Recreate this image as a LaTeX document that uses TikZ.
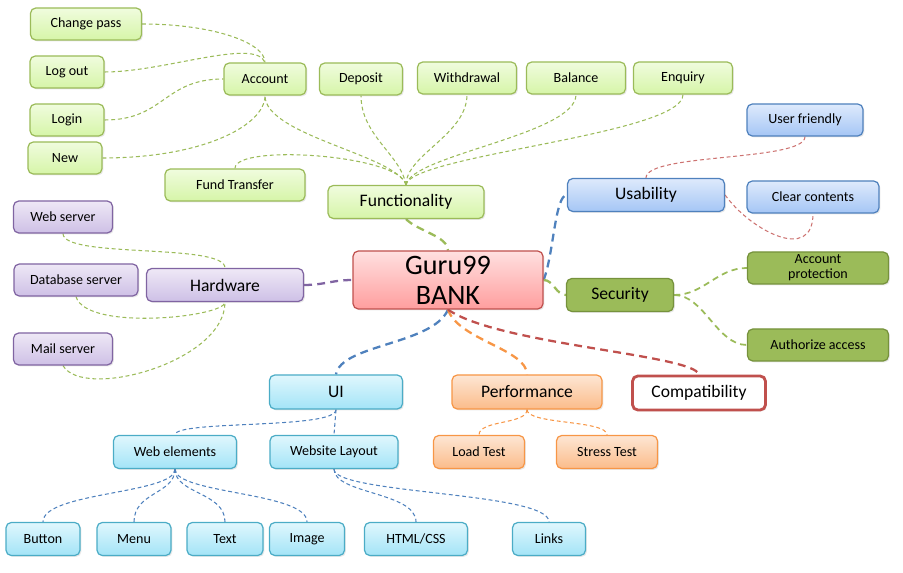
\documentclass[tikz,border=0pt]{standalone}
\usepackage{fontspec}
\setmainfont{Carlito}
\usetikzlibrary{shadows, backgrounds}
\definecolor{grnline}{RGB}{155,187,89}
\definecolor{grntop}{RGB}{240,252,222}
\definecolor{grnbot}{RGB}{214,245,168}
\definecolor{grndark}{RGB}{118,146,60}
\definecolor{blueline}{RGB}{79,129,189}
\definecolor{bluetop}{RGB}{222,234,252}
\definecolor{bluebot}{RGB}{165,198,245}
\definecolor{purpline}{RGB}{128,100,162}
\definecolor{purptop}{RGB}{238,232,246}
\definecolor{purpbot}{RGB}{206,192,230}
\definecolor{redline}{RGB}{192,80,77}
\definecolor{redtop}{RGB}{255,224,224}
\definecolor{redbot}{RGB}{255,158,158}
\definecolor{cyanline}{RGB}{75,172,198}
\definecolor{cyantop}{RGB}{224,247,253}
\definecolor{cyanbot}{RGB}{163,228,247}
\definecolor{orgline}{RGB}{247,150,70}
\definecolor{orgtop}{RGB}{253,230,212}
\definecolor{orgbot}{RGB}{251,188,138}
\tikzset{
  box/.style={draw, rounded corners=3pt, line width=0.7pt, align=center, inner sep=1pt,
    minimum height=0.64cm, font=\fontsize{8}{8.5}\selectfont,
    drop shadow={opacity=0.18, shadow xshift=0.8pt, shadow yshift=-0.8pt}},
  bigbox/.style={minimum height=0.66cm, font=\fontsize{10}{12}\selectfont},
  greenbox/.style={box, draw=grnline, top color=grntop, bottom color=grnbot},
  bluebox/.style={box, draw=blueline, top color=bluetop, bottom color=bluebot},
  purpbox/.style={box, draw=purpline, top color=purptop, bottom color=purpbot},
  secbox/.style={box, draw=grndark, fill=grnline},
  cyanbox/.style={box, draw=cyanline, top color=cyantop, bottom color=cyanbot},
  orgbox/.style={box, draw=orgline, top color=orgtop, bottom color=orgbot},
  thinlink/.style={dash pattern=on 2.2pt off 1.6pt, line width=0.6pt},
  mainlink/.style={dash pattern=on 4.5pt off 3pt, line width=1.3pt},
}

\begin{document}
\begin{tikzpicture}[x=0.02cm, y=-0.02cm]
  \useasboundingbox (0,0) rectangle (903,573);

  % centre
  \node[box, draw=redline, top color=redtop, bottom color=redbot, minimum width=3.8cm,
        minimum height=1.16cm, font=\fontsize{16}{17}\selectfont] (bank) at (448,280) {Guru99\\BANK};

  % functionality
  \node[greenbox, bigbox, minimum width=3.12cm] (func) at (406,202) {Functionality};
  \node[greenbox, minimum width=1.64cm] (acc) at (265,79) {Account};
  \node[greenbox, minimum width=1.66cm] (dep) at (361,79) {Deposit};
  \node[greenbox, minimum width=1.98cm] (wdr) at (467,78) {Withdrawal};
  \node[greenbox, minimum width=1.98cm] (bal) at (576,78) {Balance};
  \node[greenbox, minimum width=1.98cm] (enq) at (683,78) {Enquiry};
  \node[greenbox, minimum width=2.8cm] (fund) at (235,185) {Fund Transfer};
  \node[greenbox, minimum width=2.22cm] (chg) at (86,24) {Change pass};
  \node[greenbox, minimum width=1.48cm] (lout) at (67,72) {Log out};
  \node[greenbox, minimum width=1.48cm] (lin) at (67,120) {Login};
  \node[greenbox, minimum width=1.48cm] (new) at (65,158) {New};

  % usability
  \node[bluebox, bigbox, minimum width=3.14cm] (usa) at (646,195) {Usability};
  \node[bluebox, minimum width=2.32cm] (ufr) at (805,120) {User friendly};
  \node[bluebox, minimum width=2.64cm] (clr) at (813,197) {Clear contents};

  % hardware
  \node[purpbox, bigbox, minimum width=3.14cm] (hw) at (225,285) {Hardware};
  \node[purpbox, minimum width=1.98cm] (web) at (63,217) {Web server};
  \node[purpbox, minimum width=2.48cm] (dbs) at (76,280) {Database server};
  \node[purpbox, minimum width=1.98cm] (mail) at (63,349) {Mail server};

  % security
  \node[secbox, bigbox, minimum width=2.14cm] (sec) at (620,295) {Security};
  \node[secbox, minimum width=2.82cm] (prot) at (818,268) {Account\\protection};
  \node[secbox, minimum width=2.82cm] (auth) at (818,345) {Authorize access};

  % ui
  \node[cyanbox, bigbox, minimum width=2.66cm, minimum height=0.68cm] (ui) at (336,392) {UI};
  \node[cyanbox, minimum width=2.46cm, minimum height=0.66cm] (wel) at (175,452) {Web elements};
  \node[cyanbox, minimum width=2.56cm, minimum height=0.66cm] (wlay) at (334,452) {Website Layout};
  \node[cyanbox, minimum width=1.48cm, minimum height=0.66cm] (btn) at (43,539) {Button};
  \node[cyanbox, minimum width=1.48cm, minimum height=0.66cm] (menu) at (134,539) {Menu};
  \node[cyanbox, minimum width=1.52cm, minimum height=0.66cm] (txt) at (225,539) {Text};
  \node[cyanbox, minimum width=1.5cm, minimum height=0.66cm] (img) at (307,539) {Image};
  \node[cyanbox, minimum width=2.06cm, minimum height=0.66cm] (html) at (416,539) {HTML/CSS};
  \node[cyanbox, minimum width=1.46cm, minimum height=0.66cm] (links) at (549,539) {Links};

  % performance and compatibility
  \node[orgbox, bigbox, minimum width=3cm, minimum height=0.68cm] (perf) at (527,392) {Performance};
  \node[orgbox, minimum width=1.82cm, minimum height=0.66cm] (load) at (479,452) {Load Test};
  \node[orgbox, minimum width=2.02cm, minimum height=0.66cm] (strs) at (607,452) {Stress Test};
  \node[box, bigbox, draw=redline, line width=1.6pt, fill=white, minimum width=2.66cm,
        minimum height=0.68cm] (comp) at (699,393) {Compatibility};

  \begin{scope}[on background layer]
    % main branches
    \draw[mainlink, grnline] (func.south) .. controls +(12,12) and +(0,-14) .. (bank.north);
    \draw[mainlink, purpline] (hw.east) .. controls +(20,0) and +(-20,0) .. (bank.west);
    \draw[mainlink, blueline] (bank.east) .. controls +(10,-25) and +(-12,0) .. (usa.west);
    \draw[mainlink, grnline] (bank.east) .. controls +(10,0) and +(-10,0) .. (sec.west);
    \draw[mainlink, blueline] (bank.south) .. controls +(-15,35) and +(5,-30) .. (ui.north);
    \draw[mainlink, orgline] (bank.south) .. controls +(10,30) and +(0,-25) .. (perf.north);
    \draw[mainlink, redline] (bank.south) .. controls +(50,35) and +(-5,-20) .. (comp.north);

    % functionality
    \foreach \t/\a in {acc/-10, dep/-5, wdr/0, bal/5, enq/5}
      \draw[thinlink, grnline] (func.north) .. controls +(\a,-30) and +(0,40) .. (\t.south);
    \draw[thinlink, grnline] (func.north) .. controls +(-5,-30) and +(0,-25) .. (fund.north);
    \draw[thinlink, grnline] (chg.east) .. controls +(70,0) and +(0,-20) .. (acc.north);
    \draw[thinlink, grnline] (lout.east) .. controls +(60,0) and +(-10,-25) .. (acc.north);
    \draw[thinlink, grnline] (lin.east) .. controls +(60,0) and +(-60,0) .. (acc.west);
    \draw[thinlink, grnline] (new.east) .. controls +(100,0) and +(0,30) .. (acc.south);

    % hardware
    \draw[thinlink, grnline] (web.south) .. controls +(0,25) and +(0,-25) .. (hw.north);
    \draw[thinlink, grnline] (dbs.south) .. controls +(10,35) and +(0,15) .. (hw.south);
    \draw[thinlink, grnline] (mail.south) .. controls +(20,35) and +(0,60) .. (hw.south);

    % usability
    \draw[thinlink, redline!80] (ufr.south) .. controls +(0,25) and +(0,-25) .. (usa.north);
    \draw[thinlink, redline!80] (usa.east) .. controls +(25,35) and +(0,50) .. (clr.south);

    % security
    \draw[dash pattern=on 3.5pt off 2.5pt, line width=1pt, grnline] (sec.east) .. controls +(30,0) and +(-30,0) .. (prot.west);
    \draw[dash pattern=on 3.5pt off 2.5pt, line width=1pt, grnline] (sec.east) .. controls +(30,0) and +(-30,0) .. (auth.west);

    % ui
    \draw[thinlink, blueline] (ui.south) .. controls +(0,20) and +(0,-15) .. (wel.north);
    \draw[thinlink, blueline] (ui.south) -- (wlay.north);
    \foreach \t in {btn, menu, txt, img}
      \draw[thinlink, blueline] (wel.south) .. controls +(0,25) and +(0,-30) .. (\t.north);
    \foreach \t in {html, links}
      \draw[thinlink, blueline] (wlay.south) .. controls +(0,25) and +(0,-30) .. (\t.north);

    % performance
    \foreach \t in {load, strs}
      \draw[thinlink, orgline] (perf.south) .. controls +(0,15) and +(0,-15) .. (\t.north);
  \end{scope}
\end{tikzpicture}
\end{document}
